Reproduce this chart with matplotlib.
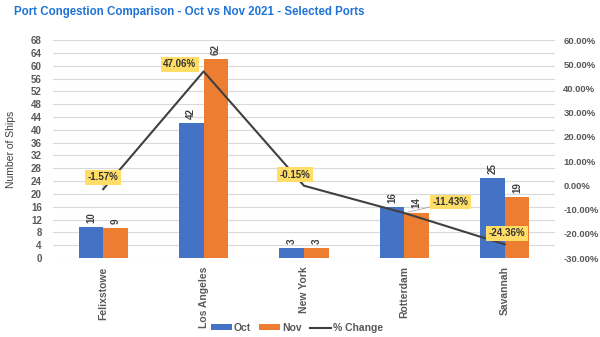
import numpy as np
import matplotlib
matplotlib.use("Agg")
import matplotlib.pyplot as plt

# Dane
ports = ["Felixstowe", "Los Angeles", "New York", "Rotterdam", "Savannah"]
oct_ships = [9.7, 42, 3, 16, 25]
nov_ships = [9.3, 62, 3, 14.2, 19]
pct_change = [-1.57, 47.06, -0.15, -11.43, -24.36]

left_ticks = list(range(0, 69, 4))
right_ticks = list(range(-30, 61, 10))

# przesuniecia etykiet procentowych (w pikselach) i czy maja linie prowadzaca
label_offsets = [(0, 12), (-24, 7), (-9, 11), (46, 11), (2, 11)]
label_leader = [True, False, False, True, False]

BLUE = "#4472C4"
ORANGE = "#ED7D31"
LINE = "#404040"
GRID = "#D9D9D9"
TXT = "#595959"

plt.rcParams["font.family"] = ["Liberation Sans", "DejaVu Sans"]

fig = plt.figure(figsize=(6, 3.37), dpi=100)
ax = fig.add_axes([0.0883, 0.2344, 0.8367, 0.6466])
ax2 = ax.twinx()

x = np.arange(len(ports))
w = 0.245
b1 = ax.bar(x - w / 2, oct_ships, w, color=BLUE, label="Oct", zorder=2)
b2 = ax.bar(x + w / 2, nov_ships, w, color=ORANGE, label="Nov", zorder=2)

for bars in (b1, b2):
    for r in bars:
        ax.annotate(f"{r.get_height():.0f}", (r.get_x() + r.get_width() / 2, r.get_height()),
                    xytext=(0, 3), textcoords="offset points", rotation=90,
                    ha="center", va="bottom", fontsize=7, fontweight="bold", color="#404040")

ax.set_xlim(-0.5, len(ports) - 0.5)
ax.set_ylim(0, 68)
ax.set_yticks(left_ticks)
ax.yaxis.grid(True, color=GRID, linewidth=0.8, zorder=0)
ax.set_axisbelow(True)
ax.set_xticks(x)
ax.set_xticklabels(ports, rotation=90, fontsize=7.5, fontweight="bold", color=TXT)
ax.tick_params(axis="y", labelsize=7, labelcolor=TXT, length=0, pad=8)
ax.tick_params(axis="x", length=0, pad=6)
for lbl in ax.get_yticklabels():
    lbl.set_fontweight("bold")
for s in ax.spines.values():
    s.set_visible(False)
ax.set_ylabel("Number of Ships", fontsize=7.5, color="#404040", labelpad=11)

# linia zmiany procentowej
ln, = ax2.plot(x, pct_change, color=LINE, linewidth=1.5, label="% Change", zorder=3)
ax2.set_ylim(-30, 60)
ax2.set_yticks(right_ticks)
ax2.set_yticklabels([f"{v:.2f}%" for v in right_ticks])
ax2.tick_params(axis="y", labelsize=6.8, labelcolor=TXT, length=0, pad=6)
for lbl in ax2.get_yticklabels():
    lbl.set_fontweight("bold")
for s in ax2.spines.values():
    s.set_visible(False)

for xi, v, off, lead in zip(x, pct_change, label_offsets, label_leader):
    ax2.annotate(f"{v:.2f}%", (xi, v), xytext=off, textcoords="offset pixels",
                 ha="center", va="center", fontsize=7, fontweight="bold", color="#333333",
                 bbox=dict(boxstyle="square,pad=0.25", fc="#FFDD66", ec="none"),
                 arrowprops=dict(arrowstyle="-", color="#A6A6A6", lw=0.6,
                                 shrinkA=0, shrinkB=2) if lead else None,
                 zorder=5)

fig.text(0.023, 0.965, "Port Congestion Comparison - Oct vs Nov 2021 - Selected Ports",
         fontsize=8.3, fontweight="bold", color="#1F73D6", ha="left", va="center")

leg = fig.legend(handles=[b1, b2, ln], loc="center", bbox_to_anchor=(0.495, 0.027), ncol=3,
                 frameon=False, fontsize=7.5, handlelength=2.0, handleheight=0.5,
                 columnspacing=0.8, handletextpad=0.2, borderaxespad=0)
for t in leg.get_texts():
    t.set_fontweight("bold")
    t.set_color(TXT)

fig.savefig("out.png", dpi=100)
